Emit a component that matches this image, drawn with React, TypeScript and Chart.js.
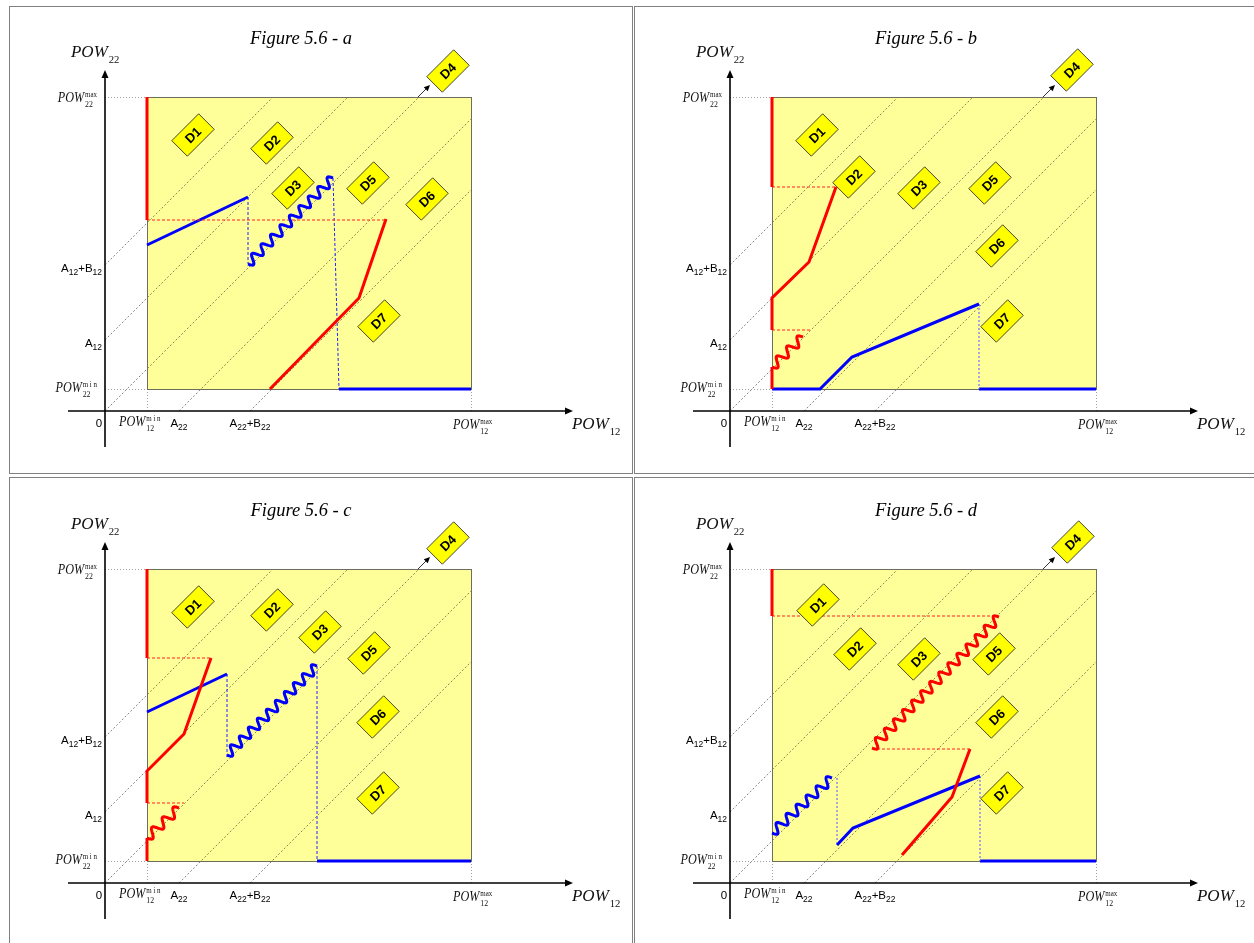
import React, { useEffect, useRef } from "react";
import { Chart, registerables } from "chart.js";
Chart.register(...registerables);

type Pt = [number, number];
type Kind = "thick" | "dash" | "dot" | "wave";
type Series = [Kind, "red" | "blue", Pt[]];
type Tag = [string, number, number];

// ---- shared axis values (same geometry in every figure) ----
const POW12_MIN = 42;
const POW12_MAX = 366;
const POW22_MIN = 22;
const POW22_MAX = 314;
const A12 = 71;
const A12_B12 = 146;
const A22 = 74;
const A22_B22 = 145;
const DIAG_INTERCEPTS = [146, 71, 0, -74, -145];
const D4_ARROW: Pt[] = [[313, 314], [325, 326]];

// ---- Figure 5.6 - a ----
const A_RED_EDGE: Pt[] = [[42, 314], [42, 191]];
const A_RED_DASH: Pt[] = [[42, 191], [281, 191]];
const A_RED_LINE: Pt[] = [[165, 22], [254, 113], [281, 192]];
const A_BLUE_LINE: Pt[] = [[42, 166], [143, 214]];
const A_BLUE_DASH1: Pt[] = [[143, 214], [143, 147]];
const A_BLUE_WAVE: Pt[] = [[143, 147], [228, 233]];
const A_BLUE_DASH2: Pt[] = [[228, 233], [234, 22]];
const A_BLUE_BASE: Pt[] = [[234, 22], [366, 22]];
const A_TAGS: Tag[] = [["D1", 88, 276], ["D2", 167, 268], ["D3", 188, 223], ["D4", 343, 340], ["D5", 263, 228], ["D6", 322, 212], ["D7", 274, 90]];

// ---- Figure 5.6 - b ----
const B_RED_EDGE: Pt[] = [[42, 314], [42, 224]];
const B_RED_DASH1: Pt[] = [[42, 224], [106, 224]];
const B_RED_LINE: Pt[] = [[106, 224], [79, 149], [42, 113], [42, 81]];
const B_RED_DASH2: Pt[] = [[42, 81], [80, 81]];
const B_RED_WAVE: Pt[] = [[42, 44], [73, 74]];
const B_RED_LOW: Pt[] = [[42, 22], [42, 44]];
const B_BLUE_LINE: Pt[] = [[42, 22], [90, 22], [122, 54], [249, 107]];
const B_BLUE_DOT: Pt[] = [[249, 107], [249, 22]];
const B_BLUE_BASE: Pt[] = [[249, 22], [366, 22]];
const B_TAGS: Tag[] = [["D1", 87, 276], ["D2", 124, 234], ["D3", 189, 223], ["D4", 342, 341], ["D5", 260, 228], ["D6", 267, 165], ["D7", 272, 90]];

// ---- Figure 5.6 - c ----
const C_RED_EDGE: Pt[] = [[42, 314], [42, 225]];
const C_RED_DASH1: Pt[] = [[42, 225], [106, 225]];
const C_RED_LINE: Pt[] = [[106, 225], [79, 149], [42, 112], [42, 80]];
const C_RED_DASH2: Pt[] = [[42, 80], [79, 80]];
const C_RED_WAVE: Pt[] = [[42, 45], [74, 75]];
const C_RED_LOW: Pt[] = [[42, 22], [42, 45]];
const C_BLUE_LINE: Pt[] = [[42, 171], [122, 209]];
const C_BLUE_DASH1: Pt[] = [[122, 209], [122, 125]];
const C_BLUE_WAVE: Pt[] = [[122, 128], [212, 217]];
const C_BLUE_DASH2: Pt[] = [[212, 217], [212, 22]];
const C_BLUE_BASE: Pt[] = [[212, 22], [366, 22]];
const C_TAGS: Tag[] = [["D1", 88, 276], ["D2", 167, 273], ["D3", 215, 251], ["D4", 343, 340], ["D5", 264, 230], ["D6", 273, 166], ["D7", 273, 90]];

// ---- Figure 5.6 - d ----
const D_RED_EDGE: Pt[] = [[42, 314], [42, 267]];
const D_RED_DASH1: Pt[] = [[42, 267], [268, 267]];
const D_RED_WAVE: Pt[] = [[142, 135], [269, 266]];
const D_RED_DASH2: Pt[] = [[142, 134], [240, 134]];
const D_RED_LINE: Pt[] = [[172, 28], [222, 86], [240, 134]];
const D_BLUE_WAVE: Pt[] = [[42, 50], [102, 105]];
const D_BLUE_DOT1: Pt[] = [[107, 105], [107, 40]];
const D_BLUE_LINE: Pt[] = [[107, 38], [123, 55], [250, 107]];
const D_BLUE_DOT2: Pt[] = [[250, 107], [250, 22]];
const D_BLUE_BASE: Pt[] = [[250, 22], [366, 22]];
const D_TAGS: Tag[] = [["D1", 88, 278], ["D2", 125, 234], ["D3", 189, 224], ["D4", 343, 341], ["D5", 264, 229], ["D6", 267, 166], ["D7", 272, 90]];

const SERIES_A: Series[] = [
  ["thick", "red", A_RED_EDGE], ["dash", "red", A_RED_DASH], ["thick", "red", A_RED_LINE],
  ["thick", "blue", A_BLUE_LINE], ["dash", "blue", A_BLUE_DASH1], ["wave", "blue", A_BLUE_WAVE],
  ["dash", "blue", A_BLUE_DASH2], ["thick", "blue", A_BLUE_BASE],
];
const SERIES_B: Series[] = [
  ["thick", "red", B_RED_EDGE], ["dash", "red", B_RED_DASH1], ["thick", "red", B_RED_LINE],
  ["dash", "red", B_RED_DASH2], ["wave", "red", B_RED_WAVE], ["thick", "red", B_RED_LOW],
  ["thick", "blue", B_BLUE_LINE], ["dot", "blue", B_BLUE_DOT], ["thick", "blue", B_BLUE_BASE],
];
const SERIES_C: Series[] = [
  ["thick", "red", C_RED_EDGE], ["dash", "red", C_RED_DASH1], ["thick", "red", C_RED_LINE],
  ["dash", "red", C_RED_DASH2], ["wave", "red", C_RED_WAVE], ["thick", "red", C_RED_LOW],
  ["thick", "blue", C_BLUE_LINE], ["dash", "blue", C_BLUE_DASH1], ["wave", "blue", C_BLUE_WAVE],
  ["dash", "blue", C_BLUE_DASH2], ["thick", "blue", C_BLUE_BASE],
];
const SERIES_D: Series[] = [
  ["thick", "red", D_RED_EDGE], ["dash", "red", D_RED_DASH1], ["wave", "red", D_RED_WAVE],
  ["dash", "red", D_RED_DASH2], ["thick", "red", D_RED_LINE], ["wave", "blue", D_BLUE_WAVE],
  ["dot", "blue", D_BLUE_DOT1], ["thick", "blue", D_BLUE_LINE], ["dot", "blue", D_BLUE_DOT2],
  ["thick", "blue", D_BLUE_BASE],
];

const PANELS = [
  { key: "a", left: 9, top: 6, ox: 96, oy: 405, title: "Figure 5.6 - a", series: SERIES_A, tags: A_TAGS },
  { key: "b", left: 634, top: 6, ox: 96, oy: 405, title: "Figure 5.6 - b", series: SERIES_B, tags: B_TAGS },
  { key: "c", left: 9, top: 477, ox: 96, oy: 406, title: "Figure 5.6 - c", series: SERIES_C, tags: C_TAGS },
  { key: "d", left: 634, top: 477, ox: 96, oy: 406, title: "Figure 5.6 - d", series: SERIES_D, tags: D_TAGS },
];

const W = 624;
const H = 468;
const SANS = '"Liberation Sans", Arial, sans-serif';
const SERIF = '"Liberation Serif", "Times New Roman", serif';
const COLORS: Record<string, Record<string, string>> = {
  red: { thick: "#ff0000", dash: "#ff2020", dot: "#ff6060", wave: "#ff0000" },
  blue: { thick: "#0000ff", dash: "#2020ff", dot: "#7070ff", wave: "#0000ff" },
};

function sansRich(ctx: CanvasRenderingContext2D, parts: [string, boolean][], x: number, y: number, align: string) {
  const big = `11.5px ${SANS}`;
  const small = `8.5px ${SANS}`;
  let w = 0;
  for (const [t, sub] of parts) { ctx.font = sub ? small : big; w += ctx.measureText(t).width; }
  let cx = align === "left" ? x : align === "center" ? x - w / 2 : x - w;
  ctx.textAlign = "left";
  ctx.textBaseline = "alphabetic";
  ctx.fillStyle = "#000";
  for (const [t, sub] of parts) {
    ctx.font = sub ? small : big;
    ctx.fillText(t, cx, sub ? y + 3 : y);
    cx += ctx.measureText(t).width;
  }
}

function powLabel(ctx: CanvasRenderingContext2D, x: number, y: number, sub: string, sup: string, size: number, align: string, sx: number) {
  ctx.save();
  ctx.translate(x, y);
  ctx.scale(sx, 1);
  ctx.textAlign = "left";
  ctx.textBaseline = "alphabetic";
  ctx.fillStyle = "#111";
  ctx.font = `italic ${size}px ${SERIF}`;
  const wp = ctx.measureText("POW").width;
  const subSize = Math.round(size * 0.64);
  const supSize = Math.round(size * 0.58);
  ctx.font = `${subSize}px ${SERIF}`;
  const ws = ctx.measureText(sub).width;
  ctx.font = `${supSize}px ${SERIF}`;
  const wu = sup ? ctx.measureText(sup).width : 0;
  const total = wp + 1 + Math.max(ws, wu);
  const start = align === "right" ? -total : 0;
  ctx.font = `italic ${size}px ${SERIF}`;
  ctx.fillText("POW", start, 0);
  ctx.font = `${subSize}px ${SERIF}`;
  ctx.fillText(sub, start + wp + 1, size * 0.34);
  if (sup) {
    ctx.font = `${supSize}px ${SERIF}`;
    ctx.fillText(sup, start + wp + 1, -size * 0.38);
  }
  ctx.restore();
}

function arrow(ctx: CanvasRenderingContext2D, x0: number, y0: number, x1: number, y1: number, len: number, half: number, lw: number) {
  const a = Math.atan2(y1 - y0, x1 - x0);
  ctx.save();
  ctx.strokeStyle = "#000";
  ctx.fillStyle = "#000";
  ctx.lineWidth = lw;
  ctx.setLineDash([]);
  ctx.beginPath();
  ctx.moveTo(x0, y0);
  ctx.lineTo(x1 - Math.cos(a) * len * 0.8, y1 - Math.sin(a) * len * 0.8);
  ctx.stroke();
  ctx.beginPath();
  ctx.moveTo(x1, y1);
  ctx.lineTo(x1 - Math.cos(a) * len - Math.sin(a) * half, y1 - Math.sin(a) * len + Math.cos(a) * half);
  ctx.lineTo(x1 - Math.cos(a) * len + Math.sin(a) * half, y1 - Math.sin(a) * len - Math.cos(a) * half);
  ctx.closePath();
  ctx.fill();
  ctx.restore();
}

function wave(ctx: CanvasRenderingContext2D, x0: number, y0: number, x1: number, y1: number, color: string) {
  const dx = x1 - x0, dy = y1 - y0;
  const len = Math.hypot(dx, dy);
  const ux = dx / len, uy = dy / len, nx = -uy, ny = ux;
  const n = Math.max(1, Math.round(len / 13));
  const amp = 4.5;
  ctx.save();
  ctx.strokeStyle = color;
  ctx.lineWidth = 3;
  ctx.lineJoin = "round";
  ctx.setLineDash([]);
  ctx.beginPath();
  const steps = Math.ceil(len * 2);
  for (let i = 0; i <= steps; i++) {
    const t = (i / steps) * len;
    const o = amp * Math.sin((t / len) * n * 2 * Math.PI);
    const x = x0 + ux * t + nx * o, y = y0 + uy * t + ny * o;
    if (i === 0) ctx.moveTo(x, y); else ctx.lineTo(x, y);
  }
  ctx.stroke();
  ctx.restore();
}

function diamond(ctx: CanvasRenderingContext2D, x: number, y: number, label: string) {
  ctx.save();
  ctx.translate(x, y);
  ctx.rotate(-Math.PI / 4);
  ctx.fillStyle = "#ffff00";
  ctx.strokeStyle = "#222";
  ctx.lineWidth = 0.8;
  ctx.setLineDash([]);
  ctx.beginPath();
  ctx.rect(-19, -11, 38, 22);
  ctx.fill();
  ctx.stroke();
  ctx.fillStyle = "#000";
  ctx.font = `bold 13px ${SANS}`;
  ctx.textAlign = "center";
  ctx.textBaseline = "middle";
  ctx.fillText(label, 0, 1);
  ctx.restore();
}

const panelPlugin = {
  id: "panelDecor",
  beforeDatasetsDraw(chart: any) {
    const ctx: CanvasRenderingContext2D = chart.ctx;
    const cfg = chart.options.plugins.panelDecor;
    const xs = chart.scales.x, ys = chart.scales.y;
    const px = (v: number) => xs.getPixelForValue(v);
    const py = (v: number) => ys.getPixelForValue(v);
    const Ox = px(0), Oy = py(0);
    ctx.save();
    // frame
    ctx.strokeStyle = "#808080";
    ctx.lineWidth = 1;
    ctx.strokeRect(0.5, 0.5, chart.width - 1, chart.height - 1);
    // feasible box
    ctx.fillStyle = "#ffff99";
    ctx.fillRect(px(POW12_MIN), py(POW22_MAX), px(POW12_MAX) - px(POW12_MIN), py(POW22_MIN) - py(POW22_MAX));
    // dotted reference lines
    ctx.strokeStyle = "#888";
    ctx.lineWidth = 0.8;
    ctx.setLineDash([1, 2]);
    ctx.beginPath();
    ctx.moveTo(Ox, py(POW22_MAX) + 0.5); ctx.lineTo(px(POW12_MIN), py(POW22_MAX) + 0.5);
    ctx.moveTo(Ox, py(POW22_MIN) + 0.5); ctx.lineTo(px(POW12_MIN), py(POW22_MIN) + 0.5);
    ctx.moveTo(px(POW12_MIN) + 0.5, Oy); ctx.lineTo(px(POW12_MIN) + 0.5, py(POW22_MIN));
    ctx.moveTo(px(POW12_MAX) + 0.5, Oy); ctx.lineTo(px(POW12_MAX) + 0.5, py(POW22_MIN));
    ctx.stroke();
    // diagonals
    ctx.strokeStyle = "rgba(40,40,40,0.8)";
    ctx.lineWidth = 0.7;
    ctx.setLineDash([2, 2]);
    ctx.beginPath();
    for (const c of DIAG_INTERCEPTS) {
      const s: Pt = c >= 0 ? [0, c] : [-c, 0];
      const e: Pt = POW22_MAX - c <= POW12_MAX ? [POW22_MAX - c, POW22_MAX] : [POW12_MAX, POW12_MAX + c];
      ctx.moveTo(px(s[0]), py(s[1]));
      ctx.lineTo(px(e[0]), py(e[1]));
    }
    ctx.stroke();
    ctx.setLineDash([]);
    // box border
    ctx.strokeStyle = "#6e6e5c";
    ctx.lineWidth = 1;
    ctx.strokeRect(px(POW12_MIN) + 0.5, py(POW22_MAX) + 0.5, px(POW12_MAX) - px(POW12_MIN), py(POW22_MIN) - py(POW22_MAX));
    // axes
    arrow(ctx, Ox, Oy + 36, Ox, Oy - 341, 8, 3.5, 1.6);
    arrow(ctx, Ox - 37, Oy, Ox + 468, Oy, 8, 3.5, 1.6);
    // D4 arrow
    arrow(ctx, px(D4_ARROW[0][0]), py(D4_ARROW[0][1]), px(D4_ARROW[1][0]), py(D4_ARROW[1][1]), 6, 2.8, 0.8);
    // title
    ctx.fillStyle = "#000";
    ctx.font = `italic 18.5px ${SERIF}`;
    ctx.textAlign = "center";
    ctx.textBaseline = "alphabetic";
    ctx.fillText(cfg.title, Ox + 196, Oy - 367);
    // axis titles
    powLabel(ctx, Ox - 34, Oy - 354, "22", "", 17.5, "left", 0.97);
    powLabel(ctx, Ox + 467, Oy + 18, "12", "", 17.5, "left", 0.97);
    // y-axis tick labels
    powLabel(ctx, Ox - 8, py(POW22_MAX) + 5, "22", "max", 14, "right", 0.87);
    powLabel(ctx, Ox - 8, py(POW22_MIN) + 3, "22", "m i n", 14, "right", 0.87);
    sansRich(ctx, [["A", false], ["12", true], ["+B", false], ["12", true]], Ox - 3, py(A12_B12) + 6.5, "right");
    sansRich(ctx, [["A", false], ["12", true]], Ox - 3, py(A12) + 6.5, "right");
    // x-axis tick labels
    sansRich(ctx, [["0", false]], Ox - 6, Oy + 16, "center");
    powLabel(ctx, px(POW12_MIN) - 28, Oy + 15, "12", "m i n", 14, "left", 0.87);
    powLabel(ctx, px(POW12_MAX) - 18, Oy + 18, "12", "max", 14, "left", 0.87);
    sansRich(ctx, [["A", false], ["22", true]], px(A22), Oy + 16, "center");
    sansRich(ctx, [["A", false], ["22", true], ["+B", false], ["22", true]], px(A22_B22), Oy + 16, "center");
    ctx.restore();
  },
  afterDatasetsDraw(chart: any) {
    const ctx: CanvasRenderingContext2D = chart.ctx;
    const cfg = chart.options.plugins.panelDecor;
    chart.data.datasets.forEach((ds: any, i: number) => {
      if (!ds.wavy) return;
      const pts = chart.getDatasetMeta(i).data;
      wave(ctx, pts[0].x, pts[0].y, pts[1].x, pts[1].y, ds.borderColor);
    });
    const xs = chart.scales.x, ys = chart.scales.y;
    for (const [label, x, y] of cfg.tags as Tag[]) {
      diamond(ctx, xs.getPixelForValue(x), ys.getPixelForValue(y), label);
    }
  },
};

function Panel(props: { p: typeof PANELS[number] }) {
  const { p } = props;
  const ref = useRef<HTMLCanvasElement | null>(null);
  useEffect(() => {
    if (!ref.current) return;
    const datasets = p.series.map(([kind, color, pts]) => ({
      data: pts.map(([x, y]) => ({ x, y })),
      borderColor: COLORS[color][kind],
      borderWidth: kind === "thick" ? 3 : kind === "dot" ? 1.2 : 1,
      borderDash: kind === "dash" ? [3, 2] : kind === "dot" ? [2, 2] : [],
      showLine: kind !== "wave",
      wavy: kind === "wave",
      pointRadius: 0,
      fill: false,
      tension: 0,
      borderJoinStyle: "miter",
    }));
    const chart = new Chart(ref.current, {
      type: "line",
      data: { datasets } as any,
      options: {
        responsive: false,
        animation: false,
        events: [],
        layout: { padding: 0 },
        scales: {
          x: { type: "linear", display: false, min: -p.ox, max: W - p.ox },
          y: { type: "linear", display: false, min: -(H - p.oy), max: p.oy },
        },
        plugins: {
          legend: { display: false },
          tooltip: { enabled: false },
          panelDecor: { title: p.title, tags: p.tags },
        } as any,
      },
      plugins: [panelPlugin as any],
    });
    return () => chart.destroy();
  }, [p]);
  return (
    <canvas
      ref={ref}
      width={W}
      height={H}
      style={{ position: "absolute", left: p.left, top: p.top, width: W, height: H }}
    />
  );
}

export default function App() {
  return (
    <div style={{ position: "fixed", left: 0, top: 0, width: 1254, height: 943, overflow: "hidden", background: "#fff" }}>
      {PANELS.map((p) => (
        <Panel key={p.key} p={p} />
      ))}
    </div>
  );
}
